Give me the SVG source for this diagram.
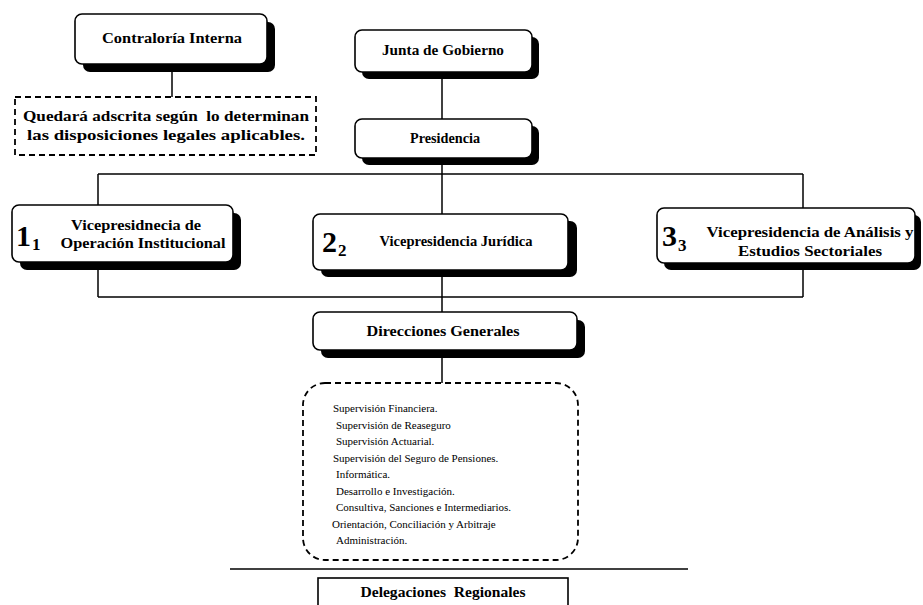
<svg xmlns="http://www.w3.org/2000/svg" width="923" height="605" viewBox="0 0 923 605">
  <defs>
    <style>
      .box { fill: #ffffff; stroke: #000000; stroke-width: 1.6; }
      .shadow { fill: #000000; }
      .dash { fill: #ffffff; stroke: #000000; stroke-width: 1.8; stroke-dasharray: 6 4; }
      .line { fill: none; stroke: #000000; stroke-width: 1.5; }
      .title { font-family: "Liberation Serif", "Times New Roman", serif; font-weight: bold; font-size: 14px; fill: #000000; text-anchor: middle; }
      .note { font-family: "Liberation Serif", "Times New Roman", serif; font-weight: bold; font-size: 14px; fill: #000000; text-anchor: middle; }
      .num { font-family: "Liberation Serif", "Times New Roman", serif; font-weight: bold; font-size: 30px; fill: #000000; }
      .sub { font-family: "Liberation Serif", "Times New Roman", serif; font-weight: bold; font-size: 17px; fill: #000000; }
      .item { font-family: "Liberation Serif", "Times New Roman", serif; font-size: 11px; fill: #000000; }
    </style>
  </defs>
  <rect width="923" height="605" fill="#ffffff"/>

  <!-- connectors -->
  <g id="connectors">
    <line class="line" x1="172" y1="64" x2="172" y2="97"/>
    <line class="line" x1="442" y1="72" x2="442" y2="119"/>
    <line class="line" x1="442" y1="158" x2="442" y2="214"/>
    <line class="line" x1="98" y1="174" x2="803" y2="174"/>
    <line class="line" x1="98" y1="174" x2="98" y2="205"/>
    <line class="line" x1="803" y1="174" x2="803" y2="208"/>
    <line class="line" x1="98" y1="262" x2="98" y2="297"/>
    <line class="line" x1="803" y1="263" x2="803" y2="297"/>
    <line class="line" x1="442" y1="270" x2="442" y2="312"/>
    <line class="line" x1="98" y1="297" x2="803" y2="297"/>
    <line class="line" x1="442" y1="350" x2="442" y2="383"/>
    <line class="line" x1="230" y1="569" x2="688" y2="569" stroke-width="2"/>
  </g>

  <!-- Contraloría Interna -->
  <g id="contraloria">
    <rect class="shadow" x="83" y="22" width="192" height="50" rx="7"/>
    <rect class="box" x="75" y="14" width="192" height="50" rx="7"/>
    <text class="title" x="172" y="43" textLength="140" lengthAdjust="spacingAndGlyphs">Contraloría Interna</text>
  </g>

  <!-- note under Contraloría -->
  <g id="nota">
    <rect class="dash" x="15" y="97" width="301" height="58"/>
    <text class="note" x="166" y="121" textLength="286" lengthAdjust="spacingAndGlyphs" xml:space="preserve">Quedará adscrita según  lo determinan</text>
    <text class="note" x="166" y="140" textLength="278" lengthAdjust="spacingAndGlyphs">las disposiciones legales aplicables.</text>
  </g>

  <!-- Junta de Gobierno -->
  <g id="junta">
    <rect class="shadow" x="362" y="37" width="177" height="42" rx="7"/>
    <rect class="box" x="355" y="30" width="177" height="42" rx="7"/>
    <text class="title" x="443" y="55" textLength="122" lengthAdjust="spacingAndGlyphs">Junta de Gobierno</text>
  </g>

  <!-- Presidencia -->
  <g id="presidencia">
    <rect class="shadow" x="362" y="126" width="177" height="39" rx="7"/>
    <rect class="box" x="355" y="119" width="177" height="39" rx="7"/>
    <text class="title" x="445" y="143" textLength="70" lengthAdjust="spacingAndGlyphs">Presidencia</text>
  </g>

  <!-- Vicepresidencia 1 -->
  <g id="vp1">
    <rect class="shadow" x="20" y="213" width="221" height="57" rx="7"/>
    <rect class="box" x="12" y="205" width="221" height="57" rx="7"/>
    <text class="num" x="16" y="246">1</text>
    <text class="sub" x="32" y="250">1</text>
    <text class="title" x="136" y="230" textLength="130" lengthAdjust="spacingAndGlyphs">Vicepresidnecia de</text>
    <text class="title" x="143" y="248" textLength="165" lengthAdjust="spacingAndGlyphs">Operación Institucional</text>
  </g>

  <!-- Vicepresidencia 2 -->
  <g id="vp2">
    <rect class="shadow" x="321" y="221" width="256" height="56" rx="7"/>
    <rect class="box" x="313" y="214" width="255" height="56" rx="7"/>
    <text class="num" x="322" y="252">2</text>
    <text class="sub" x="338" y="256">2</text>
    <text class="title" x="456" y="246" textLength="153" lengthAdjust="spacingAndGlyphs">Vicepresidencia Jurídica</text>
  </g>

  <!-- Vicepresidencia 3 -->
  <g id="vp3">
    <rect class="shadow" x="664" y="215" width="257" height="55" rx="7"/>
    <rect class="box" x="657" y="208" width="258" height="55" rx="7"/>
    <text class="num" x="662" y="246">3</text>
    <text class="sub" x="678" y="251">3</text>
    <text class="title" x="810" y="237" textLength="207" lengthAdjust="spacingAndGlyphs">Vicepresidencia de Análisis y</text>
    <text class="title" x="810" y="256" textLength="144" lengthAdjust="spacingAndGlyphs">Estudios Sectoriales</text>
  </g>

  <!-- Direcciones Generales -->
  <g id="direcciones">
    <rect class="shadow" x="321" y="320" width="264" height="38" rx="7"/>
    <rect class="box" x="313" y="312" width="264" height="38" rx="7"/>
    <text class="title" x="443" y="336" textLength="153" lengthAdjust="spacingAndGlyphs">Direcciones Generales</text>
  </g>

  <!-- list of general directorates -->
  <g id="lista">
    <rect class="dash" x="303" y="383" width="275" height="177" rx="22"/>
    <text class="item" x="333" y="412">Supervisión Financiera.</text>
    <text class="item" x="336" y="428.5">Supervisión de Reaseguro</text>
    <text class="item" x="336" y="445">Supervisión Actuarial.</text>
    <text class="item" x="333" y="461.5">Supervisión del Seguro de Pensiones.</text>
    <text class="item" x="336" y="478">Informática.</text>
    <text class="item" x="336" y="494.5">Desarrollo e Investigación.</text>
    <text class="item" x="336" y="511">Consultiva, Sanciones e Intermediarios.</text>
    <text class="item" x="332" y="527.5">Orientación, Conciliación y Arbitraje</text>
    <text class="item" x="336" y="544">Administración.</text>
  </g>

  <!-- Delegaciones Regionales -->
  <g id="delegaciones">
    <rect class="box" x="318" y="578" width="250" height="40"/>
    <text class="title" x="443" y="597" textLength="165" lengthAdjust="spacingAndGlyphs" xml:space="preserve">Delegaciones  Regionales</text>
  </g>
</svg>
